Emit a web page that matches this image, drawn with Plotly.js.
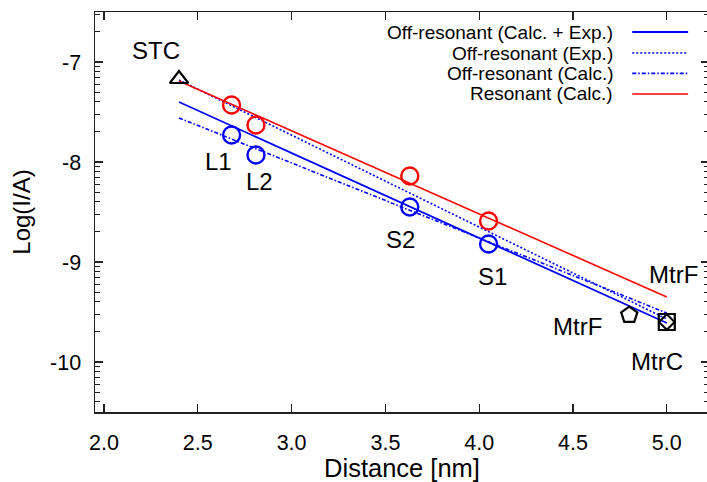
<!DOCTYPE html>
<html>
<head>
<meta charset="utf-8">
<script src="https://cdn.plot.ly/plotly-3.0.1.min.js"></script>
<style>
html, body { margin: 0; padding: 0; overflow: hidden; background: #fff; }
#plot { width: 712px; height: 482px; }
</style>
</head>
<body>
<div id="plot"></div>
<script>
// ---- data ----
const resX = [2.68, 2.81, 3.63, 4.05];
const resY = [-7.43, -7.63, -8.14, -8.59];
const offX = [2.68, 2.81, 3.63, 4.05];
const offY = [-7.73, -7.93, -8.45, -8.82];
const siteNames = ["L1", "L2", "S2", "S1"];
const stcX = [2.40], stcY = [-7.17];
const mtrFX = [4.80], mtrFY = [-9.53];
const mtrCX = [5.00], mtrCY = [-9.60];
const fitX = [2.40, 5.00];
const fitCalcExp = [-7.40, -9.61];
const fitExp = [-7.18, -9.57];
const fitCalc = [-7.56, -9.51];
const fitRes = [-7.19, -9.35];
const legendNames = ["Off-resonant (Calc. + Exp.)", "Off-resonant (Exp.)", "Off-resonant (Calc.)", "Resonant (Calc.)"];
const xTicks = [2.0, 2.5, 3.0, 3.5, 4.0, 4.5, 5.0];
const xTickText = ["2.0", "2.5", "3.0", "3.5", "4.0", "4.5", "5.0"];
const yTicks = [-10, -9, -8, -7];
const yTickText = ["-10", "-9", "-8", "-7"];

const BLUE = "#0000ff", RED = "#ff0000";
const FONT = "Liberation Sans, Arial, Helvetica, sans-serif";
const DOT = "2px,2px";
const DASHDOT = "4px,2px,1.5px,2px";

const traces = [
  {x: fitX, y: fitCalcExp, mode: "lines", line: {color: BLUE, width: 1.8}},
  {x: fitX, y: fitExp, mode: "lines", line: {color: BLUE, width: 1.6, dash: DOT}},
  {x: fitX, y: fitCalc, mode: "lines", line: {color: BLUE, width: 1.6, dash: DASHDOT}},
  {x: fitX, y: fitRes, mode: "lines", line: {color: RED, width: 1.6}},
  {x: resX, y: resY, mode: "markers", marker: {symbol: "circle-open", size: 17, color: RED, line: {width: 2.4, color: RED}}},
  {x: offX, y: offY, mode: "markers", marker: {symbol: "circle-open", size: 17, color: BLUE, line: {width: 2.4, color: BLUE}}},
  {x: stcX, y: stcY, mode: "markers", marker: {symbol: "triangle-up-open", size: 16, color: "#000", line: {width: 2.2, color: "#000"}}},
  {x: mtrFX, y: mtrFY, mode: "markers", marker: {symbol: "pentagon-open", size: 17, color: "#000", line: {width: 2.2, color: "#000"}}},
  {x: mtrCX, y: mtrCY, mode: "markers", marker: {symbol: "square-open", size: 16, color: "#000", line: {width: 2.2, color: "#000"}}},
  {x: mtrCX, y: mtrCY, mode: "markers", marker: {symbol: "diamond-open", size: 12, color: "#000", line: {width: 2, color: "#000"}}}
];

// minor y ticks in log-like pattern
const yMinor = [];
for (let n = -11; n <= -7; n++) {
  for (let k = 2; k <= 9; k++) {
    const v = n + Math.log10(k);
    if (v > -10.5 && v < -6.5) yMinor.push(v);
  }
}

const labFont = {family: FONT, size: 24, color: "#000"};
const shifts = [[-13, -26], [4, -26], [-9, -32], [4, -32]];
const annotations = [];
siteNames.forEach((s, i) => {
  annotations.push({x: offX[i], y: offY[i], xref: "x", yref: "y", text: s, showarrow: false,
    xshift: shifts[i][0], yshift: shifts[i][1], font: labFont});
});
annotations.push({x: stcX[0], y: stcY[0], text: "STC", showarrow: false, xshift: -23, yshift: 29, font: labFont});
annotations.push({x: mtrFX[0], y: mtrFY[0], text: "MtrF", showarrow: false, xshift: -52, yshift: -11, font: labFont});
annotations.push({x: mtrCX[0], y: mtrCY[0], text: "MtrC", showarrow: false, xshift: -10, yshift: -39, font: labFont});
annotations.push({x: fitX[1], y: fitRes[1], text: "MtrF", showarrow: false, xshift: 7, yshift: 23, font: labFont});

// legend (text left of sample, as in reference)
const legY = [0.95, 0.8975, 0.8465, 0.795];
const legStyle = [
  {color: BLUE, width: 1.8},
  {color: BLUE, width: 1.6, dash: DOT},
  {color: BLUE, width: 1.6, dash: DASHDOT},
  {color: RED, width: 1.6}
];
const shapes = [];
legendNames.forEach((name, i) => {
  annotations.push({x: 0.845, y: legY[i], xref: "paper", yref: "paper", xanchor: "right", yanchor: "middle",
    text: name, showarrow: false, borderpad: 0, font: {family: FONT, size: 19, color: "#000"}});
  shapes.push({type: "line", xref: "paper", yref: "paper", x0: 0.875, x1: 0.966, y0: legY[i], y1: legY[i], line: legStyle[i]});
});

const axisCommon = {
  showgrid: false, zeroline: false, showline: true, linecolor: "#222", linewidth: 1.5,
  ticks: "inside", tickcolor: "#222", tickwidth: 1.2, mirror: "ticks",
  tickfont: {family: FONT, size: 21.5, color: "#000"}
};

const layout = {
  width: 712, height: 482,
  margin: {l: 95, r: 3, t: 12, b: 70},
  paper_bgcolor: "#fff", plot_bgcolor: "#fff",
  showlegend: false,
  font: {family: FONT, color: "#000"},
  xaxis: Object.assign({}, axisCommon, {
    range: [1.952, 5.225], tickmode: "array", tickvals: xTicks, ticktext: xTickText,
    ticklen: 8, ticklabelstandoff: 11,
    title: {text: "Distance [nm]", font: {family: FONT, size: 25.5, color: "#000"}, standoff: 7}
  }),
  yaxis: Object.assign({}, axisCommon, {
    range: [-10.5, -6.5], tickmode: "array", tickvals: yTicks, ticktext: yTickText,
    ticklen: 8, ticklabelstandoff: 8,
    minor: {tickmode: "array", tickvals: yMinor, ticks: "inside", ticklen: 5, tickcolor: "#222", tickwidth: 1},
    title: {text: "Log(I/A)", font: {family: FONT, size: 24, color: "#000"}, standoff: 12}
  }),
  annotations: annotations,
  shapes: shapes
};

Plotly.newPlot("plot", traces, layout, {displayModeBar: false, staticPlot: true});
</script>
</body>
</html>
